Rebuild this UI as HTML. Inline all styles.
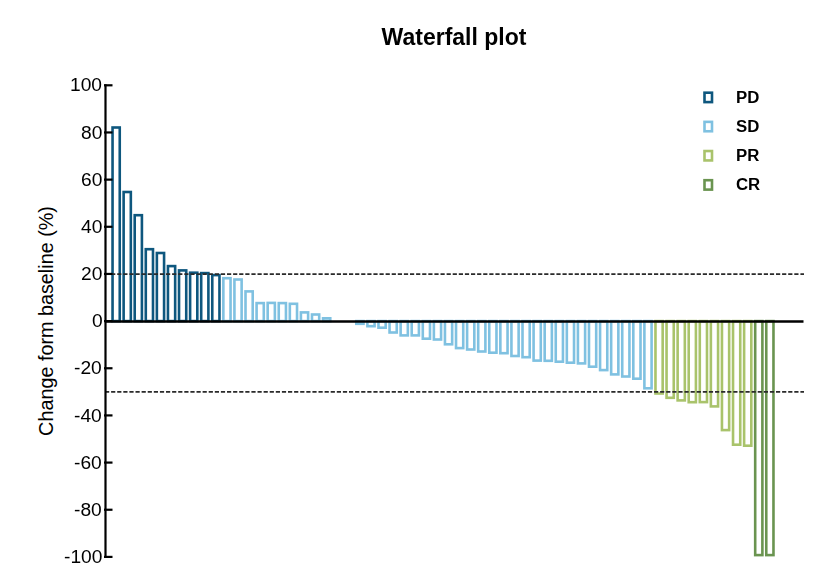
<!DOCTYPE html>
<html><head><meta charset="utf-8"><style>
html,body{margin:0;padding:0;background:#fff;}
body{width:831px;height:575px;position:relative;overflow:hidden;font-family:"Liberation Sans",sans-serif;-webkit-font-smoothing:antialiased;}
.title,.tl,.lg{will-change:transform;}
svg{position:absolute;left:0;top:0;}
.title{position:absolute;left:0;width:908px;text-align:center;top:23.8px;font-weight:bold;font-size:23px;line-height:26px;color:#000;}
.tl{position:absolute;right:728.8px;font-size:19.2px;line-height:22px;color:#000;text-align:right;}
.lg{position:absolute;left:735.8px;font-size:16.8px;line-height:18px;font-weight:bold;color:#000;}
.yl{position:absolute;left:45.9px;top:320.9px;width:0;height:0;}
.yl span{position:absolute;white-space:nowrap;font-size:19.8px;line-height:22px;transform:translate(-50%,-50%) rotate(-90deg);color:#000;}
</style></head><body>
<svg width="831" height="575" viewBox="0 0 831 575">
<g fill="none" stroke-width="2.6">
<rect x="112.55" y="127.50" width="7.20" height="193.60" stroke="#0e577e"/>
<rect x="123.63" y="192.00" width="7.20" height="129.10" stroke="#0e577e"/>
<rect x="134.71" y="215.20" width="7.20" height="105.90" stroke="#0e577e"/>
<rect x="145.79" y="249.20" width="7.20" height="71.90" stroke="#0e577e"/>
<rect x="156.87" y="253.00" width="7.20" height="68.10" stroke="#0e577e"/>
<rect x="167.95" y="266.10" width="7.20" height="55.00" stroke="#0e577e"/>
<rect x="179.03" y="270.40" width="7.20" height="50.70" stroke="#0e577e"/>
<rect x="190.11" y="272.70" width="7.20" height="48.40" stroke="#0e577e"/>
<rect x="201.19" y="273.10" width="7.20" height="48.00" stroke="#0e577e"/>
<rect x="212.27" y="275.10" width="7.20" height="46.00" stroke="#0e577e"/>
<rect x="223.35" y="278.20" width="7.20" height="42.90" stroke="#7fc1e1"/>
<rect x="234.43" y="279.50" width="7.20" height="41.60" stroke="#7fc1e1"/>
<rect x="245.51" y="291.40" width="7.20" height="29.70" stroke="#7fc1e1"/>
<rect x="256.59" y="303.10" width="7.20" height="18.00" stroke="#7fc1e1"/>
<rect x="267.67" y="302.90" width="7.20" height="18.20" stroke="#7fc1e1"/>
<rect x="278.75" y="303.10" width="7.20" height="18.00" stroke="#7fc1e1"/>
<rect x="289.83" y="303.80" width="7.20" height="17.30" stroke="#7fc1e1"/>
<rect x="300.91" y="312.40" width="7.20" height="8.70" stroke="#7fc1e1"/>
<rect x="311.99" y="314.50" width="7.20" height="6.60" stroke="#7fc1e1"/>
<rect x="323.07" y="318.30" width="7.20" height="2.80" stroke="#7fc1e1"/>
<rect x="356.31" y="321.10" width="7.20" height="2.70" stroke="#7fc1e1"/>
<rect x="367.39" y="321.10" width="7.20" height="5.10" stroke="#7fc1e1"/>
<rect x="378.47" y="321.10" width="7.20" height="6.60" stroke="#7fc1e1"/>
<rect x="389.55" y="321.10" width="7.20" height="11.40" stroke="#7fc1e1"/>
<rect x="400.63" y="321.10" width="7.20" height="14.30" stroke="#7fc1e1"/>
<rect x="411.71" y="321.10" width="7.20" height="14.30" stroke="#7fc1e1"/>
<rect x="422.79" y="321.10" width="7.20" height="17.60" stroke="#7fc1e1"/>
<rect x="433.87" y="321.10" width="7.20" height="18.40" stroke="#7fc1e1"/>
<rect x="444.95" y="321.10" width="7.20" height="23.20" stroke="#7fc1e1"/>
<rect x="456.03" y="321.10" width="7.20" height="27.00" stroke="#7fc1e1"/>
<rect x="467.11" y="321.10" width="7.20" height="28.40" stroke="#7fc1e1"/>
<rect x="478.19" y="321.10" width="7.20" height="30.40" stroke="#7fc1e1"/>
<rect x="489.27" y="321.10" width="7.20" height="31.60" stroke="#7fc1e1"/>
<rect x="500.35" y="321.10" width="7.20" height="32.10" stroke="#7fc1e1"/>
<rect x="511.43" y="321.10" width="7.20" height="34.90" stroke="#7fc1e1"/>
<rect x="522.51" y="321.10" width="7.20" height="36.10" stroke="#7fc1e1"/>
<rect x="533.59" y="321.10" width="7.20" height="39.50" stroke="#7fc1e1"/>
<rect x="544.67" y="321.10" width="7.20" height="39.70" stroke="#7fc1e1"/>
<rect x="555.75" y="321.10" width="7.20" height="40.60" stroke="#7fc1e1"/>
<rect x="566.83" y="321.10" width="7.20" height="41.60" stroke="#7fc1e1"/>
<rect x="577.91" y="321.10" width="7.20" height="42.30" stroke="#7fc1e1"/>
<rect x="588.99" y="321.10" width="7.20" height="45.60" stroke="#7fc1e1"/>
<rect x="600.07" y="321.10" width="7.20" height="49.00" stroke="#7fc1e1"/>
<rect x="611.15" y="321.10" width="7.20" height="53.30" stroke="#7fc1e1"/>
<rect x="622.23" y="321.10" width="7.20" height="55.40" stroke="#7fc1e1"/>
<rect x="633.31" y="321.10" width="7.20" height="57.60" stroke="#7fc1e1"/>
<rect x="644.39" y="321.10" width="7.20" height="67.20" stroke="#7fc1e1"/>
<rect x="655.47" y="321.10" width="7.20" height="72.40" stroke="#a9c36b"/>
<rect x="666.55" y="321.10" width="7.20" height="76.70" stroke="#a9c36b"/>
<rect x="677.63" y="321.10" width="7.20" height="79.30" stroke="#a9c36b"/>
<rect x="688.71" y="321.10" width="7.20" height="81.10" stroke="#a9c36b"/>
<rect x="699.79" y="321.10" width="7.20" height="81.00" stroke="#a9c36b"/>
<rect x="710.87" y="321.10" width="7.20" height="85.30" stroke="#a9c36b"/>
<rect x="721.95" y="321.10" width="7.20" height="109.00" stroke="#a9c36b"/>
<rect x="733.03" y="321.10" width="7.20" height="123.60" stroke="#a9c36b"/>
<rect x="744.11" y="321.10" width="7.20" height="124.60" stroke="#a9c36b"/>
<rect x="755.19" y="321.10" width="7.20" height="234.00" stroke="#6a9450"/>
<rect x="766.27" y="321.10" width="7.20" height="234.00" stroke="#6a9450"/>
</g>
<g stroke="#2a2a2a" stroke-width="1.6" stroke-dasharray="4.2 1.9">
<line x1="105" y1="274.1" x2="804" y2="274.1"/>
<line x1="105" y1="391.9" x2="804" y2="391.9"/>
</g>
<line x1="105" y1="321.45" x2="803.5" y2="321.45" stroke="#000" stroke-width="2.6"/>
<g stroke="#000" stroke-width="2.2">
<line x1="105.5" y1="84.2" x2="105.5" y2="557.6"/>
<line x1="104" y1="85.30" x2="112.5" y2="85.30"/>
<line x1="104" y1="132.46" x2="112.5" y2="132.46"/>
<line x1="104" y1="179.62" x2="112.5" y2="179.62"/>
<line x1="104" y1="226.78" x2="112.5" y2="226.78"/>
<line x1="104" y1="273.94" x2="112.5" y2="273.94"/>
<line x1="104" y1="321.10" x2="112.5" y2="321.10"/>
<line x1="104" y1="368.26" x2="112.5" y2="368.26"/>
<line x1="104" y1="415.42" x2="112.5" y2="415.42"/>
<line x1="104" y1="462.58" x2="112.5" y2="462.58"/>
<line x1="104" y1="509.74" x2="112.5" y2="509.74"/>
<line x1="104" y1="556.90" x2="112.5" y2="556.90"/>
</g>
<g fill="#fff" stroke-width="2.6">
<rect x="704.50" y="92.70" width="7.50" height="9.40" stroke="#0e577e"/>
<rect x="704.50" y="121.87" width="7.50" height="9.40" stroke="#7fc1e1"/>
<rect x="704.50" y="151.04" width="7.50" height="9.40" stroke="#a9c36b"/>
<rect x="704.50" y="180.21" width="7.50" height="9.40" stroke="#6a9450"/>
</g>
</svg>
<div class="title">Waterfall plot</div>
<div class="tl" style="top:74.40px">100</div>
<div class="tl" style="top:121.56px">80</div>
<div class="tl" style="top:168.72px">60</div>
<div class="tl" style="top:215.88px">40</div>
<div class="tl" style="top:263.04px">20</div>
<div class="tl" style="top:310.20px">0</div>
<div class="tl" style="top:357.36px">-20</div>
<div class="tl" style="top:404.52px">-40</div>
<div class="tl" style="top:451.68px">-60</div>
<div class="tl" style="top:498.84px">-80</div>
<div class="tl" style="top:546.00px">-100</div>
<div class="lg" style="top:88.80px">PD</div>
<div class="lg" style="top:117.97px">SD</div>
<div class="lg" style="top:147.14px">PR</div>
<div class="lg" style="top:176.31px">CR</div>
<div class="yl"><span>Change form baseline (%)</span></div>
</body></html>
